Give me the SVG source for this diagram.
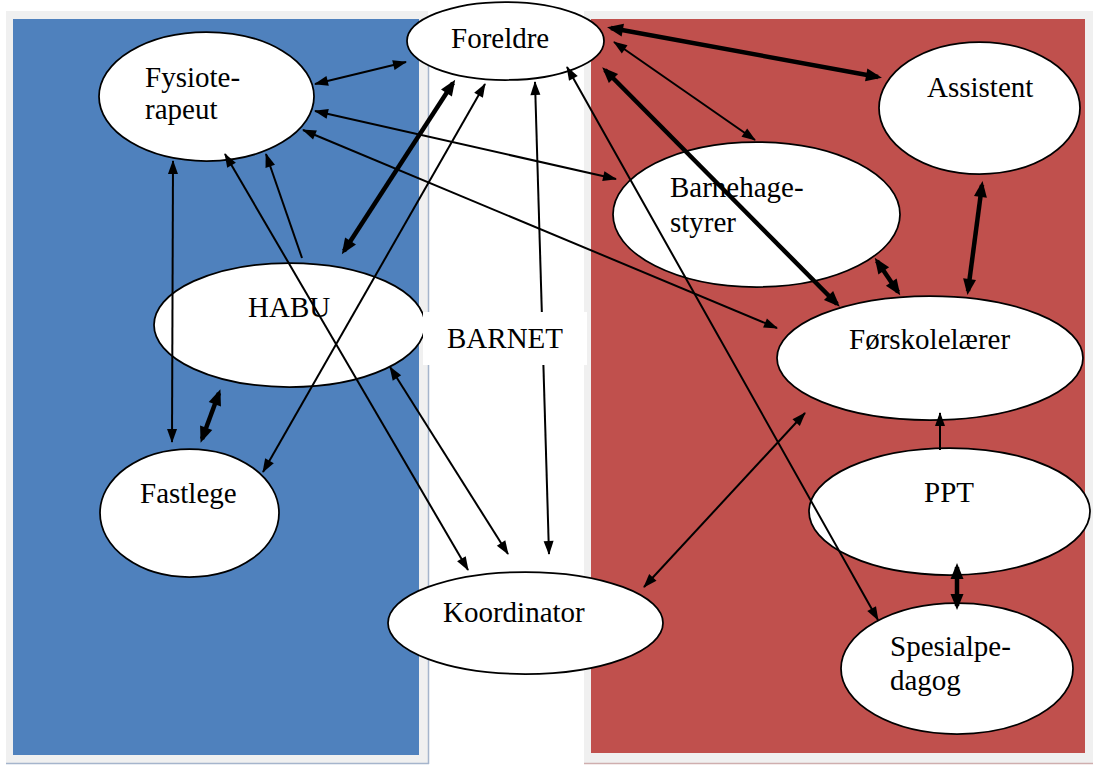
<svg xmlns="http://www.w3.org/2000/svg" width="1093" height="765" viewBox="0 0 1093 765">
<style>
.node{fill:#fff;stroke:#000;stroke-width:1.75}
.lbl{font-family:"Liberation Serif","Times New Roman",serif;font-size:29px;fill:#000}
.thin{fill:none;stroke:#000;stroke-width:2;marker-start:url(#ah);marker-end:url(#ah)}
.thin1{fill:none;stroke:#000;stroke-width:2;marker-end:url(#ah)}
.thick{fill:none;stroke:#000;stroke-width:4.5;marker-start:url(#ahT);marker-end:url(#ahT)}
</style>
<defs>
<marker id="ah" markerUnits="userSpaceOnUse" markerWidth="14" markerHeight="10" refX="13" refY="5" orient="auto-start-reverse" overflow="visible"><path d="M0,0 L14,5 L0,10 z" fill="#000"/></marker>
<marker id="ahT" markerUnits="userSpaceOnUse" markerWidth="16" markerHeight="13" refX="12" refY="6.5" orient="auto-start-reverse" overflow="visible"><path d="M0,0 L16,6.5 L0,13 z" fill="#000"/></marker>
</defs>
<rect width="1093" height="765" fill="#fff"/>
<g id="panel-left">
<rect x="6" y="11" width="422" height="752" fill="#f0f0f0"/>
<rect x="13" y="19" width="406" height="736" fill="#4f81bd"/>
<line x1="428.5" y1="19" x2="428.5" y2="764" stroke="#a5b5cc" stroke-width="1.5"/>
<line x1="6" y1="763.5" x2="429" y2="763.5" stroke="#a5b5cc" stroke-width="1.5"/>
</g>
<g id="panel-right">
<rect x="584" y="11" width="509" height="752" fill="#f0f0f0"/>
<rect x="591" y="19" width="494" height="734" fill="#c0504d"/>
<line x1="584" y1="763.5" x2="1093" y2="763.5" stroke="#cfaeae" stroke-width="1.5"/>
</g>
<g id="fysioterapeut"><ellipse class="node" cx="206.5" cy="96.5" rx="107.5" ry="64.5"/><text class="lbl" x="145" y="87">Fysiote-</text><text class="lbl" x="145" y="119">rapeut</text></g>
<g id="foreldre"><ellipse class="node" cx="505.5" cy="41" rx="98.5" ry="39"/><text class="lbl" x="451" y="48">Foreldre</text></g>
<g id="assistent"><ellipse class="node" cx="979.5" cy="108" rx="100.5" ry="66"/><text class="lbl" x="927" y="97">Assistent</text></g>
<g id="barnehagestyrer"><ellipse class="node" cx="756.5" cy="214.5" rx="143.5" ry="72.5"/><text class="lbl" x="670" y="197">Barnehage-</text><text class="lbl" x="670" y="232">styrer</text></g>
<g id="habu"><ellipse class="node" cx="289.5" cy="325" rx="135.5" ry="62"/><text class="lbl" x="248" y="317">HABU</text></g>
<g id="forskolelaerer"><ellipse class="node" cx="930" cy="358" rx="153" ry="62"/><text class="lbl" x="849" y="349">Førskolelærer</text></g>
<g id="fastlege"><ellipse class="node" cx="189.5" cy="513" rx="89.5" ry="64"/><text class="lbl" x="140" y="503">Fastlege</text></g>
<g id="ppt"><ellipse class="node" cx="949.5" cy="511.5" rx="140.5" ry="63.5"/><text class="lbl" x="924" y="502">PPT</text></g>
<g id="spesialpedagog"><ellipse class="node" cx="957" cy="668.5" rx="116" ry="65.5"/><text class="lbl" x="890" y="656">Spesialpe-</text><text class="lbl" x="890" y="690">dagog</text></g>
<g id="koordinator"><ellipse class="node" cx="525.5" cy="623" rx="137.5" ry="51"/><text class="lbl" x="443" y="622">Koordinator</text></g>
<g id="connectors">
<line class="thin" x1="315" y1="84" x2="406" y2="62"/>
<line class="thick" x1="611" y1="28" x2="878" y2="77"/>
<line class="thin" x1="614" y1="42" x2="755" y2="140"/>
<line class="thick" x1="605" y1="70" x2="837" y2="304"/>
<line class="thin" x1="567" y1="67" x2="878" y2="620"/>
<line class="thick" x1="453" y1="83" x2="344" y2="251"/>
<line class="thin" x1="485" y1="84" x2="263" y2="472"/>
<line class="thin" x1="535" y1="82" x2="549" y2="554"/>
<line class="thin" x1="315" y1="111" x2="616" y2="179"/>
<line class="thin" x1="303" y1="130" x2="777" y2="328"/>
<line class="thin1" x1="302" y1="258" x2="266" y2="154"/>
<line class="thin" x1="225" y1="154" x2="468" y2="570"/>
<line class="thin" x1="173" y1="161" x2="172" y2="442"/>
<line class="thick" x1="219" y1="393" x2="202" y2="439"/>
<line class="thin" x1="390" y1="367" x2="508" y2="554"/>
<line class="thin" x1="644" y1="587" x2="805" y2="413"/>
<line class="thick" x1="877" y1="261" x2="898" y2="292"/>
<line class="thick" x1="982" y1="185" x2="968" y2="291"/>
<line class="thin1" x1="940" y1="450" x2="940" y2="413"/>
<line class="thick" x1="957" y1="567" x2="957" y2="606"/>
</g>
<g id="barnet"><rect x="423" y="312" width="164" height="53" fill="#fff"/><text class="lbl" x="447" y="348">BARNET</text></g>
</svg>
